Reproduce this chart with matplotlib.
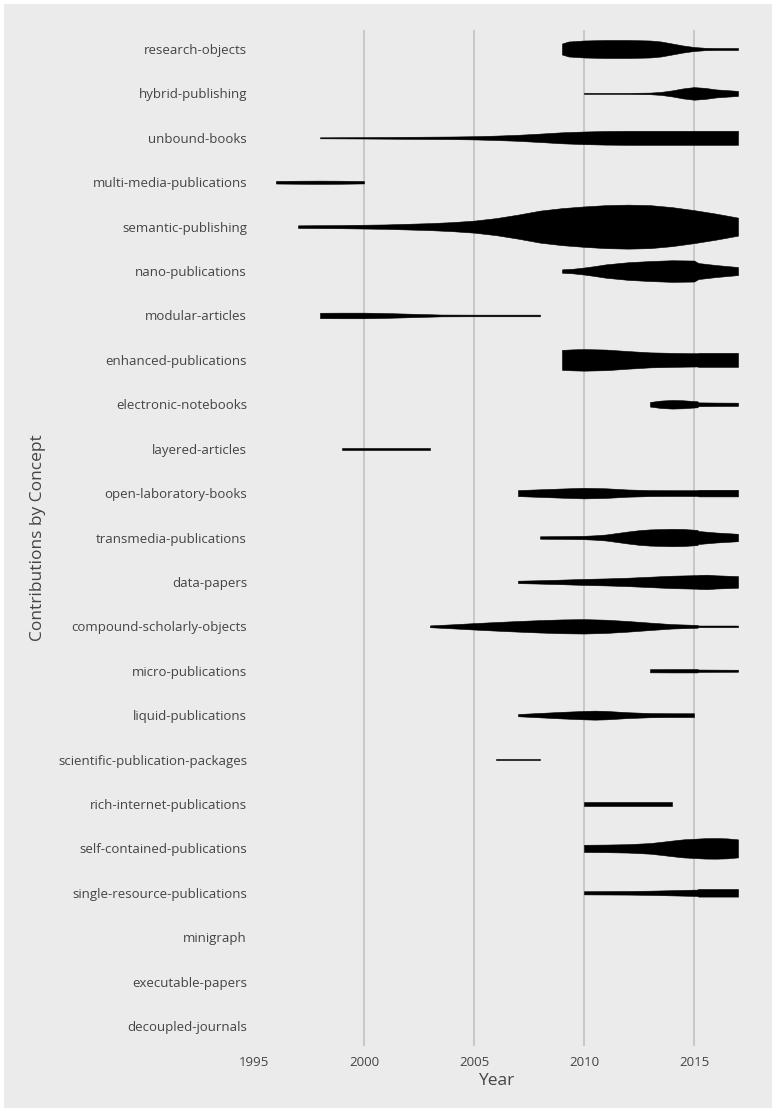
#!/usr/bin/env python3
# Contributions by concept over time - violin-like width profiles

import numpy as np
import matplotlib
matplotlib.use('Agg')
import matplotlib.pyplot as plt
from matplotlib.patches import Rectangle

plt.rcParams['font.family'] = ['Open Sans', 'DejaVu Sans']

# ── Data (half-width in pixels of a 44-px row, per year) ─────────────
concepts = [
    "research-objects", "hybrid-publishing", "unbound-books",
    "multi-media-publications", "semantic-publishing", "nano-publications",
    "modular-articles", "enhanced-publications", "electronic-notebooks",
    "layered-articles", "open-laboratory-books", "transmedia-publications",
    "data-papers", "compound-scholarly-objects", "micro-publications",
    "liquid-publications", "scientific-publication-packages",
    "rich-internet-publications", "self-contained-publications",
    "single-resource-publications", "minigraph", "executable-papers",
    "decoupled-journals",
]

research_objects_x = [2009, 2009.3, 2010, 2011, 2012, 2013, 2013.5, 2014, 2014.5, 2015, 2015.5, 2016, 2017]
research_objects_w = [5.5, 7.5, 8.5, 9, 9, 8.5, 7.5, 5.5, 3.5, 2, 1.2, 1, 1]

hybrid_x = [2010, 2012, 2013, 2013.5, 2014, 2014.5, 2015, 2015.5, 2016, 2017]
hybrid_w = [0.5, 0.5, 0.8, 1.5, 3, 5, 6.3, 5.5, 4, 2.5]

unbound_x = [1998, 2000, 2002, 2004, 2005, 2006, 2007, 2008, 2009, 2010, 2011, 2012, 2014, 2017]
unbound_w = [0.5, 0.7, 1, 1.3, 1.6, 2.2, 3, 4.2, 5.5, 6.3, 6.8, 7, 7, 7]

multimedia_x = [1996, 1997, 1998, 1999, 2000]
multimedia_w = [1.3, 1.5, 1.6, 1.5, 1.2]

semantic_x = [1997, 1999, 2001, 2003, 2004, 2005, 2006, 2007, 2008, 2009, 2010, 2011, 2012, 2013, 2014, 2015, 2016, 2017]
semantic_w = [1.3, 1.6, 2.2, 3.5, 4.5, 6, 8.5, 12, 16, 18.5, 20.2, 21.5, 22, 21.5, 19.5, 16.5, 13, 9]

nano_x = [2009, 2009.5, 2010, 2010.5, 2011, 2012, 2013, 2014, 2015, 2015.2, 2016, 2017]
nano_w = [1.7, 2.3, 3.5, 5, 6.7, 8.8, 10, 10.8, 10.5, 8, 6, 4]

modular_x = [1998, 1999, 2000, 2001, 2002, 2003, 2003.5, 2005, 2008]
modular_w = [2.7, 2.8, 2.8, 2.4, 1.8, 1.2, 0.9, 0.8, 0.8]

enhanced_x = [2009, 2009.5, 2010, 2011, 2012, 2013, 2014, 2015.15, 2015.2, 2017]
enhanced_w = [10, 10.5, 10.8, 10.3, 8.8, 7.5, 7, 6.6, 7, 7]

notebooks_x = [2013, 2013.5, 2014, 2014.5, 2015.15, 2015.2, 2016, 2017]
notebooks_w = [2.3, 3.7, 4.3, 4, 3, 1.9, 1.7, 1.6]

layered_x = [1999, 2003]
layered_w = [0.9, 0.9]

openlab_x = [2007, 2008, 2009, 2010, 2011, 2012, 2013, 2014, 2015.15, 2015.2, 2017]
openlab_w = [3, 3.8, 4.6, 5.3, 4.8, 3.6, 3, 2.9, 2.9, 3.3, 3.3]

transmedia_x = [2008, 2009, 2010, 2010.5, 2011, 2011.5, 2012, 2012.5, 2013, 2014, 2014.5, 2015.15, 2015.2, 2016, 2017]
transmedia_w = [1.2, 1.4, 1.7, 2.2, 3, 4.5, 6, 7.3, 8.1, 8.7, 8.5, 7.6, 6.5, 5, 3.7]

datapapers_x = [2007, 2008, 2009, 2010, 2011, 2012, 2013, 2014, 2015.15, 2015.2, 2015.6, 2016, 2017]
datapapers_w = [1.2, 1.7, 2.3, 3, 3.5, 4.2, 5.2, 6.2, 6.8, 7, 7.2, 6.6, 5.8]

compound_x = [2003, 2004, 2005, 2006, 2007, 2008, 2009, 2010, 2011, 2012, 2013, 2014, 2015.15, 2015.2, 2017]
compound_w = [0.9, 2, 3.2, 4.3, 5.3, 6.2, 6.9, 7.2, 6.6, 5.3, 3.7, 2.2, 1.4, 0.8, 0.8]

micro_x = [2013, 2014, 2015.15, 2015.2, 2016, 2017]
micro_w = [1.6, 1.7, 1.7, 1.2, 1.1, 1]

liquid_x = [2007, 2008, 2009, 2010, 2010.5, 2011, 2012, 2013, 2014, 2015]
liquid_w = [1.1, 2.2, 3.3, 4.2, 4.5, 4.2, 2.9, 2.1, 1.9, 1.9]

packages_x = [2006, 2008]
packages_w = [0.7, 0.7]

rich_x = [2010, 2014]
rich_w = [2, 2]

selfcont_x = [2010, 2011, 2012, 2013, 2013.5, 2014, 2014.5, 2015, 2015.5, 2016, 2016.5, 2017]
selfcont_w = [3.6, 3.8, 4.2, 5.3, 6.5, 7.8, 9, 9.6, 10.2, 10.3, 10, 9]

single_x = [2010, 2012, 2013, 2014, 2015.15, 2015.2, 2017]
single_w = [1.6, 1.8, 2.1, 2.6, 3.2, 3.8, 3.8]

profiles = {
    "research-objects": (research_objects_x, research_objects_w),
    "hybrid-publishing": (hybrid_x, hybrid_w),
    "unbound-books": (unbound_x, unbound_w),
    "multi-media-publications": (multimedia_x, multimedia_w),
    "semantic-publishing": (semantic_x, semantic_w),
    "nano-publications": (nano_x, nano_w),
    "modular-articles": (modular_x, modular_w),
    "enhanced-publications": (enhanced_x, enhanced_w),
    "electronic-notebooks": (notebooks_x, notebooks_w),
    "layered-articles": (layered_x, layered_w),
    "open-laboratory-books": (openlab_x, openlab_w),
    "transmedia-publications": (transmedia_x, transmedia_w),
    "data-papers": (datapapers_x, datapapers_w),
    "compound-scholarly-objects": (compound_x, compound_w),
    "micro-publications": (micro_x, micro_w),
    "liquid-publications": (liquid_x, liquid_w),
    "scientific-publication-packages": (packages_x, packages_w),
    "rich-internet-publications": (rich_x, rich_w),
    "self-contained-publications": (selfcont_x, selfcont_w),
    "single-resource-publications": (single_x, single_w),
}

year_ticks = [1995, 2000, 2005, 2010, 2015]
row_px = 44.41  # pixel height of one row

# ── Figure ────────────────────────────────────────────────────────────
W, H = 776, 1112
fig = plt.figure(figsize=(W / 100, H / 100), dpi=100, facecolor='white')
fig.patches.append(Rectangle((4 / W, 4 / H), 768 / W, 1104 / H,
                             transform=fig.transFigure, facecolor='#ebebeb',
                             edgecolor='none', zorder=-10))

ax = fig.add_axes([254 / W, 1 - 1046 / H, 484 / W, 1016 / H])
ax.set_facecolor('#ebebeb')
for s in ax.spines.values():
    s.set_visible(False)

for i, name in enumerate(concepts):
    if name not in profiles:
        continue
    xs, ws = profiles[name]
    xs = np.array(xs, dtype=float)
    hw = np.array(ws, dtype=float) / row_px
    ax.fill_between(xs, i - hw, i + hw, color='black', linewidth=0.4,
                    edgecolor='black', zorder=3)

ax.set_xlim(1995, 2017)
ax.set_ylim(22 + 997 / row_px - 22, -19 / row_px)
ax.set_ylim((1046 - 49) / row_px, -19 / row_px)

ax.set_yticks(range(len(concepts)))
ax.set_yticklabels(concepts)
ax.set_xticks(year_ticks)
ax.set_xticklabels([str(y) for y in year_ticks])
ax.tick_params(axis='both', length=0, labelsize=9.5, labelcolor='#444444')
ax.tick_params(axis='y', pad=5)
ax.tick_params(axis='x', pad=7)

for yr in year_ticks[1:]:
    ax.axvline(yr, color='#c8c8c8', linewidth=1.4, zorder=1)

ax.set_xlabel("Year", fontsize=12.5, color='#444444', labelpad=3)
fig.text(38 / W, 1 - 538 / H, "Contributions by Concept", rotation=90,
         ha='center', va='center', fontsize=12.5, color='#444444')

plt.savefig('out.png', dpi=100, facecolor=fig.get_facecolor())
